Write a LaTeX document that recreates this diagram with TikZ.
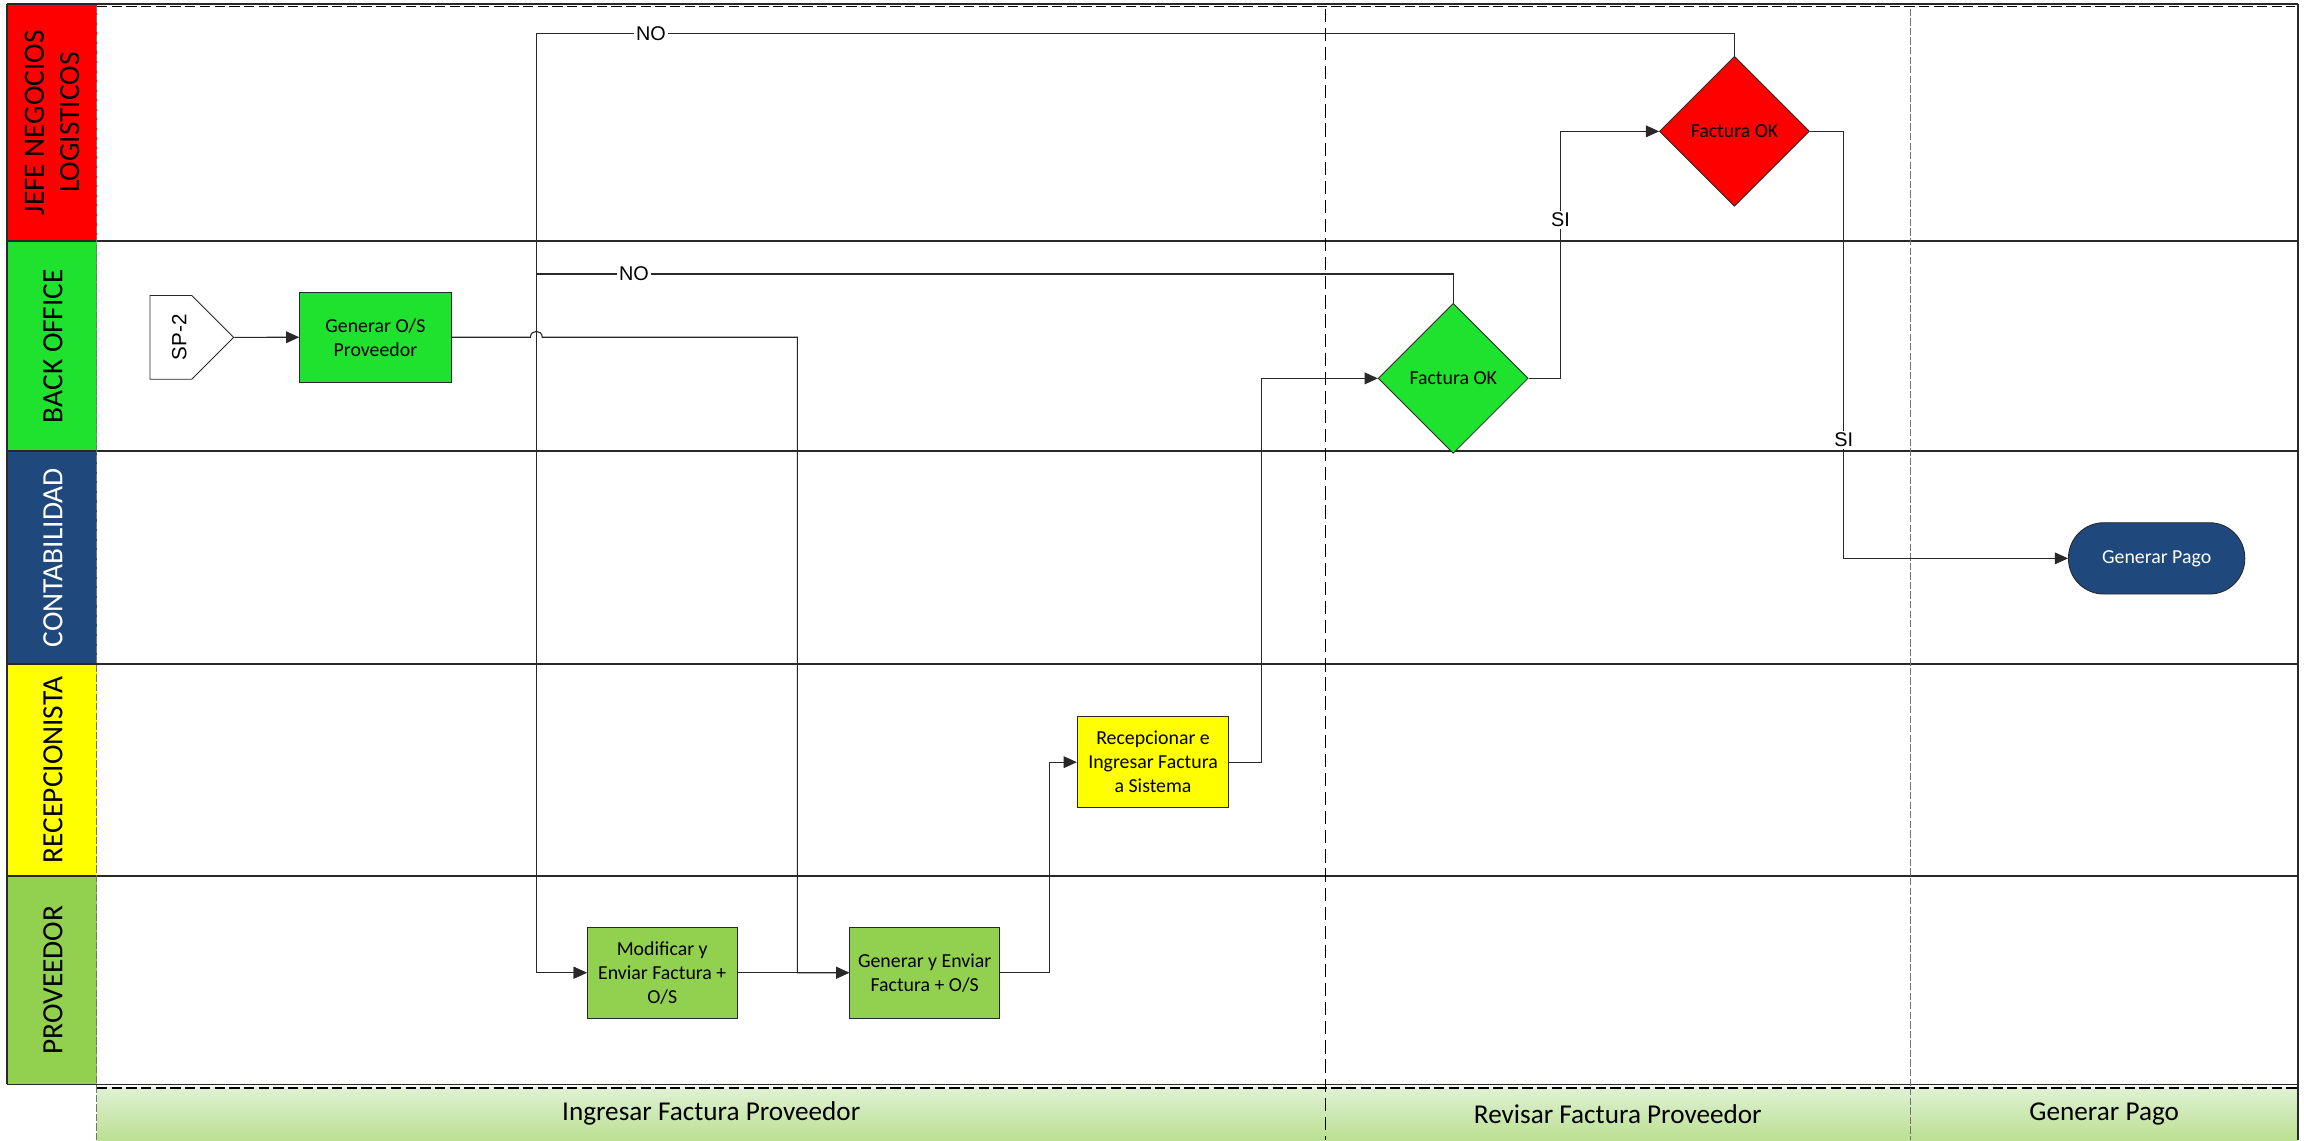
\documentclass[tikz,border=0pt]{standalone}
\usepackage{fontspec}
\setmainfont{Carlito}
\newfontfamily\arialfont{Liberation Sans}
\usetikzlibrary{arrows.meta,shapes.geometric,shapes.symbols}

\definecolor{jefered}{RGB}{255,0,0}
\definecolor{boffgreen}{RGB}{31,226,47}
\definecolor{contblue}{RGB}{31,73,125}
\definecolor{recyellow}{RGB}{255,255,0}
\definecolor{provgreen}{RGB}{146,208,80}
\definecolor{bandtop}{RGB}{224,241,212}
\definecolor{bandbot}{RGB}{186,224,145}
\definecolor{edge}{RGB}{40,40,40}

\begin{document}
\begin{tikzpicture}[x=1pt,y=-1pt,
  lane/.style={line width=1.2pt, draw=edge},
  lanelbl/.style={rotate=90, font=\fontsize{20}{24}\selectfont, align=center, inner sep=0pt},
  task/.style={draw=edge, line width=0.7pt, minimum width=102pt, minimum height=62pt,
    inner sep=0pt, align=center, font=\fontsize{13.5}{16.3}\selectfont},
  decision/.style={diamond, aspect=1, draw=edge, line width=0.6pt, minimum width=102pt,
    minimum height=102pt, inner sep=0pt, font=\fontsize{13.5}{16.3}\selectfont},
  flow/.style={line width=0.75pt, draw=edge, -{Triangle[length=9pt,width=8pt]}},
  cond/.style={fill=white, inner sep=1.5pt, font=\arialfont\fontsize{13.5}{14}\selectfont},
  phase/.style={font=\fontsize{18.5}{20}\selectfont},
  sep/.style={line width=0.9pt, draw=black, dash pattern=on 9pt off 4pt},
  thinsep/.style={line width=0.7pt, draw=black!55, dash pattern=on 5pt off 1.5pt},
]
\useasboundingbox (0,0) rectangle (1568,776);

% phase band
\shade[top color=bandtop, bottom color=bandbot] (66,740) rectangle (1564,776);

% lane headers
\fill[jefered]    (5,3)   rectangle (66,164);
\fill[boffgreen]  (5,164) rectangle (66,307);
\fill[contblue]   (5,307) rectangle (66,452);
\fill[recyellow]  (5,452) rectangle (66,596);
\fill[provgreen]  (5,596) rectangle (66,738);

\node[lanelbl] (hJefe) at (35.5,83.5) {JEFE NEGOCIOS\\LOGISTICOS};
\node[lanelbl] (hBack) at (36,235.5) {BACK OFFICE};
\node[lanelbl, text=white] (hCont) at (36,379.5) {CONTABILIDAD};
\node[lanelbl] (hRec)  at (36,524) {RECEPCIONISTA};
\node[lanelbl] (hProv) at (36,667) {PROVEEDOR};

% pool frame and lane dividers
\draw[lane] (5,2.5) -- (1564,2.5);
\draw[line width=0.9pt, dash pattern=on 7pt off 3pt] (66,4.5) -- (1562,4.5);
\foreach \yy in {164,307,452,596,738}
  \draw[lane] (5,\yy) -- (1564,\yy);
\draw[lane] (5,2.5) -- (5,738);
\draw[lane] (1564,2.5) -- (1564,776);
\draw[line width=0.9pt, dash pattern=on 7pt off 3pt] (66,740.5) -- (1564,740.5);

% phase separators
\draw[thinsep] (66,4) -- (66,776);
\draw[sep] (902,6) -- (902,776);
\draw[thinsep] (1300,6) -- (1300,776);

% phase names
\node[phase] (pIng) at (484,758) {Ingresar Factura Proveedor};
\node[phase] (pRev) at (1101,758) {Revisar Factura Proveedor};
\node[phase] (pGen) at (1432,758) {Generar Pago};

% process shapes
\node[signal, signal to=east, signal pointer angle=90, draw=edge, fill=white,
      line width=0.6pt, minimum width=57pt, minimum height=57pt, inner sep=0pt]
      (sp2) at (116.3,229.6) {};
\node[rotate=90, inner sep=0pt, font=\arialfont\fontsize{14}{16}\selectfont]
      (sp2txt) at (122,229.6) {SP-2};

\node[task, fill=boffgreen, minimum width=103pt, minimum height=61pt]
      (gos) at (255.5,229.5) {Generar O/S\\Proveedor};
\node[task, fill=provgreen] (mod) at (450.7,662) {Modificar y\\Enviar Factura +\\O/S};
\node[task, fill=provgreen] (gye) at (629.3,662) {Generar y Enviar\\Factura + O/S};
\node[task, fill=recyellow, minimum width=103pt] (rec) at (784.7,518.7)
      {Recepcionar e\\Ingresar Factura\\a Sistema};
\node[decision, fill=boffgreen] (fok1) at (989,257.5) {Factura OK};
\node[decision, fill=jefered] (fok2) at (1180.4,89.4) {Factura OK};
\node[draw=edge, line width=0.6pt, fill=contblue, text=white, rounded corners=24pt,
      minimum width=120pt, minimum height=48.5pt, inner sep=0pt,
      font=\fontsize{13.5}{16.3}\selectfont] (pago) at (1467.7,380) {Generar Pago};

% connectors
\draw[flow] (sp2.east) -- (gos.west);
\draw[flow] (gos.east) -- (361,229.5) .. controls (361,224.2) and (369,224.2) .. (369,229.5)
            -- (542.6,229.5) |- (gye.west);
\draw[flow] (mod.east) -- (gye.west);
\draw[flow] (gye.east) -- (714.2,662) |- (rec.west);
\draw[flow] (rec.east) -- (858.8,518.7) |- (fok1.west);
\draw[flow] (fok1.north) |- (365.2,186.5) |- (mod.west);
\draw[flow] (fok2.north) |- (365.2,22.7) |- (mod.west);
\draw[flow] (fok1.east) -- (1062,257.5) |- (fok2.west);
\draw[flow] (fok2.east) -- (1254.7,89.4) |- (pago.west);

% branch conditions
\node[cond] (noTop) at (443,22.7) {NO};
\node[cond] (noMid) at (431.5,186.5) {NO};
\node[cond] (siUp)  at (1062,149.7) {SI};
\node[cond] (siDn)  at (1254.7,299.4) {SI};
\end{tikzpicture}
\end{document}
